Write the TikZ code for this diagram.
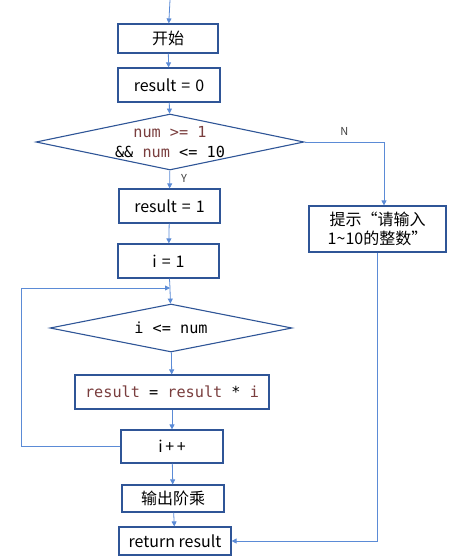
\documentclass[tikz,border=0pt]{standalone}
\usepackage{fontspec}
\setmainfont{Noto Sans CJK SC}
\setmonofont{DejaVu Sans Mono}
\usetikzlibrary{shapes.geometric,arrows.meta}
\definecolor{boxblue}{HTML}{2F5597}
\definecolor{lineblue}{HTML}{5B8BD6}
\definecolor{codered}{HTML}{7A3E3E}
\newcommand{\kw}[1]{\textcolor{codered}{#1}}
\newcommand{\gap}{\hspace{5pt}}

\begin{document}
\begin{tikzpicture}
	[x=1pt,y=-1pt,
	every node/.style={font=\fontsize{16}{19}\selectfont,inner sep=0pt},
	box/.style={draw=boxblue,line width=1.2pt,fill=white,minimum height=33pt},
	decision/.style={diamond,draw=boxblue,line width=1.1pt,fill=white},
	code/.style={font=\ttfamily\fontsize{15.2}{20}\selectfont,align=center},
	line/.style={draw=lineblue,line width=0.8pt,-{Triangle[width=5pt,length=5pt]}},
	flag/.style={font=\fontsize{11}{13}\selectfont,text=black!75}]
	\useasboundingbox (0,0) rectangle (458,558);

	% main column
	\node[box,minimum width=100pt,minimum height=29pt] (start) at (168,38.5) {开始};
	\node[box,minimum width=102pt,minimum height=34pt] (res0) at (169,85) {result\gap=\gap0};
	\node[decision,minimum width=268pt,minimum height=56pt] (cond) at (170,142) {};
	\node[code] (condtxt) at (cond) {\kw{num >= 1}\\ \&\& \kw{num} <= 10};
	\node[box,minimum width=101pt,minimum height=34pt] (res1) at (169.5,206) {result\gap=\gap1};
	\node[box,minimum width=101pt,minimum height=34pt] (ione) at (168.5,261) {i\gap=\gap1};
	\node[decision,minimum width=242pt,minimum height=48pt] (loop) at (171,328) {};
	\node[code] (looptxt) at (loop) {i <= num};
	\node[box,minimum width=194pt,minimum height=34pt] (mul) at (172,392)
		{\ttfamily\fontsize{15.2}{18}\selectfont\kw{result} = \kw{result} * \kw{i}};
	\node[box,minimum width=102pt,minimum height=33pt] (inc) at (172,446.5) {i\,+\,+};
	\node[box,minimum width=102pt,minimum height=27pt] (out) at (173,498.5) {输出阶乘};
	\node[box,minimum width=112pt,minimum height=28pt] (ret) at (175,541) {return result};

	% side branch
	\node[box,minimum width=137pt,minimum height=46pt,align=center] (tip) at (377.5,229)
		{提示“请输入\\1\textasciitilde10的整数”};

	\coordinate (top) at (170,0);
	\coordinate (join) at (170,288);
	\coordinate (back) at (21,288);

	\draw[line] (top) -- (start);
	\draw[line] (start) -- (res0);
	\draw[line] (res0) -- (cond);
	\draw[line] (cond) -- node[flag,right=11pt,pos=0.45] (yes) {Y} (res1);
	\draw[line] (cond.east) -| node[flag,above=6pt,pos=0.25] (no) {N} ([xshift=6.5pt]tip.north);
	\draw[line] (res1) -- (ione);
	\draw[draw=lineblue,line width=0.8pt] (ione) -- (join);
	\draw[line] (join) -- (loop);
	\draw[line] (loop) -- (mul);
	\draw[line] (mul) -- (inc);
	\draw[line] (inc.west) -| (back) -- (join);
	\draw[line] (inc) -- (out);
	\draw[line] (out) -- (ret);
	\draw[line] (tip.south) |- (ret.east);

\end{tikzpicture}
\end{document}
